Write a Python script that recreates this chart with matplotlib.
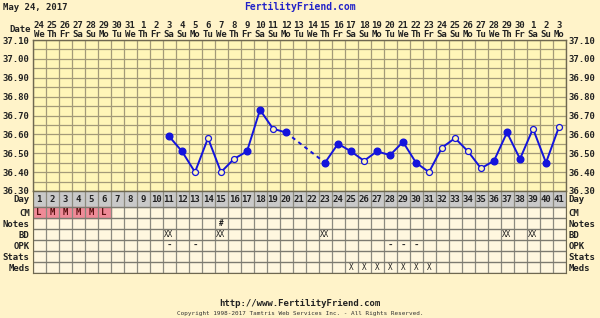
import numpy as np
import matplotlib
matplotlib.use("Agg")
import matplotlib.pyplot as plt
from matplotlib.patches import Rectangle

# donnees du cycle
days = list(range(1, 42))
date_nums = ["24", "25", "26", "27", "28", "29", "30", "31", "1", "2", "3", "4", "5",
             "6", "7", "8", "9", "10", "11", "12", "13", "14", "15", "16", "17", "18",
             "19", "20", "21", "22", "23", "24", "25", "26", "27", "28", "29", "30",
             "1", "2", "3"]
weekdays = ["We", "Th", "Fr", "Sa", "Su", "Mo", "Tu"] * 6
weekdays = weekdays[:41]

temp_days = [11, 12, 13, 14, 15, 16, 17, 18, 19, 20, 23, 24, 25, 26, 27, 28, 29, 30,
             31, 32, 33, 34, 35, 36, 37, 38, 39, 40, 41]
temps = [36.59, 36.51, 36.40, 36.58, 36.40, 36.47, 36.51, 36.73, 36.63, 36.61,
         36.45, 36.55, 36.51, 36.46, 36.51, 36.49, 36.56, 36.45, 36.40, 36.53,
         36.58, 36.51, 36.42, 36.46, 36.61, 36.47, 36.63, 36.45, 36.64]
open_days = [13, 14, 15, 16, 19, 26, 31, 32, 33, 34, 35, 39, 41]

cm_days = [1, 2, 3, 4, 5, 6]
cm_vals = ["L", "M", "M", "M", "M", "L"]
notes_days = [15]
notes_vals = ["#"]
bd_days = [11, 15, 23, 37, 39]
opk_days = [11, 13, 28, 29, 30]
meds_days = [25, 26, 27, 28, 29, 30, 31]
row_names = ["Day", "CM", "Notes", "BD", "OPK", "Stats", "Meds"]

W, H = 600, 318
fig_bg = "#fff3c9"
plot_bg = "#fff6b8"
cell_bg = "#fff7df"
grid_c = "#a39a78"
blue = "#1414dc"
mono = dict(family="DejaVu Sans Mono", weight="bold", size=6.5)

fig = plt.figure(figsize=(6, 3.18), dpi=100)
fig.patch.set_facecolor(fig_bg)

def fx(px):
    return px / W

def fy(py):
    return 1 - py / H

left, right = 32.5, 565.5
ax = fig.add_axes([fx(left), fy(191), fx(right - left), (191 - 40) / H])
ax.set_facecolor(plot_bg)
ax.set_xlim(0.5, 41.5)
ax.set_ylim(36.30, 37.10)
for d in np.arange(0.5, 42):
    ax.axvline(d, color=grid_c, lw=0.9, zorder=1)
for t in np.arange(36.30, 37.101, 0.05):
    ax.axhline(t, color=grid_c, lw=0.9, zorder=1)

yt = np.arange(36.30, 37.101, 0.10)
ax.set_yticks(yt)
ax.set_yticklabels(["%.2f" % v for v in yt], **mono)
ax.tick_params(axis="y", length=0, pad=2, labelleft=True, labelright=True,
               colors="#222222")
ax.xaxis.tick_top()
ax.set_xticks(days)
ax.set_xticklabels([f"{n}\n{w}" for n, w in zip(date_nums, weekdays)],
                   linespacing=0.9, **mono)
ax.tick_params(axis="x", length=0, pad=1, colors="#222222")
for s in ax.spines.values():
    s.set_color("#6f6850")
    s.set_linewidth(1)

# courbe : plein entre jours consecutifs, pointille sur les trous
for i in range(len(temp_days) - 1):
    d0, d1 = temp_days[i], temp_days[i + 1]
    ls = "-" if d1 - d0 == 1 else (0, (2, 2))
    ax.plot([d0, d1], [temps[i], temps[i + 1]], color=blue, lw=1.4, ls=ls, zorder=3)
for d, t in zip(temp_days, temps):
    if d in open_days:
        ax.plot(d, t, "o", ms=4.3, mfc=plot_bg, mec=blue, mew=0.9, zorder=4)
    else:
        ax.plot(d, t, "o", ms=4.8, mfc=blue, mec=blue, zorder=4)

fig.text(fx(31), fy(29), "Date", ha="right", va="center", color="#222222", **mono)
fig.text(fx(3), fy(8), "May 24, 2017", ha="left", va="center", color="#222222", **mono)
fig.text(0.5, fy(7), "FertilityFriend.com", ha="center", va="center",
         color="#2323c8", family="DejaVu Sans Mono", weight="bold", size=7)

# tableau du bas
row_h = [16, 11, 11, 11, 11, 11, 11]
edges = np.concatenate([[0], np.cumsum(row_h)])
centers = (edges[:-1] + edges[1:]) / 2
ax2 = fig.add_axes([fx(left), fy(191 + edges[-1]), fx(right - left), edges[-1] / H])
ax2.set_facecolor(cell_bg)
ax2.set_xlim(0.5, 41.5)
ax2.set_ylim(edges[-1], 0)
ax2.axhspan(edges[0], edges[1], color="#c9c9c9", zorder=0)
for d, v in zip(cm_days, cm_vals):
    ax2.add_patch(Rectangle((d - 0.5, edges[1]), 1, row_h[1], color="#ef8a97", zorder=1))
    ax2.text(d, centers[1], v, ha="center", va="center", color="#5a1010", zorder=3, **mono)
for d in np.arange(0.5, 42):
    ax2.axvline(d, color="#8c8a80", lw=0.9, zorder=2)
for e in edges:
    ax2.axhline(e, color="#7c7a70", lw=1, zorder=2)
for d in days:
    ax2.text(d, centers[0] + 0.5, str(d), ha="center", va="center", color="#222222", **mono)
for d, v in zip(notes_days, notes_vals):
    ax2.text(d, centers[2], v, ha="center", va="center", color="#222222",
             family="DejaVu Sans Mono", weight="bold", size=5.5)
for d in bd_days:
    ax2.text(d, centers[3], "XX", ha="center", va="center", color="#222222",
             family="DejaVu Sans Mono", size=5.5)
for d in opk_days:
    ax2.text(d, centers[4], "-", ha="center", va="center", color="#222222", **mono)
for d in meds_days:
    ax2.text(d, centers[6], "X", ha="center", va="center", color="#222222",
             family="DejaVu Sans Mono", size=5.5)
ax2.set_xticks([])
ax2.set_yticks(centers)
ax2.set_yticklabels(row_names, **mono)
ax2.tick_params(axis="y", length=0, pad=2, labelleft=True, labelright=True,
                colors="#222222")
for s in ax2.spines.values():
    s.set_color("#6f6850")

fig.text(0.5, fy(303), "http://www.FertilityFriend.com", ha="center", va="center",
         color="#222222", **mono)
fig.text(0.5, fy(313), "Copyright 1998-2017 Tamtris Web Services Inc. - All Rights Reserved.",
         ha="center", va="center", color="#333333", family="DejaVu Sans Mono", size=4.3)

fig.savefig("out.png", dpi=100, facecolor=fig_bg)
